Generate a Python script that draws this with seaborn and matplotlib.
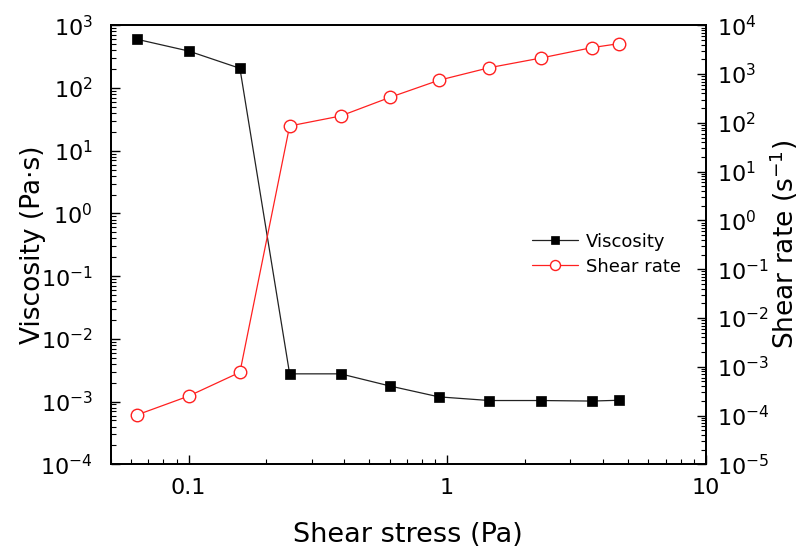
import numpy as np
import pandas as pd
import matplotlib
matplotlib.use("Agg")
import matplotlib.pyplot as plt
import seaborn as sns
from matplotlib.ticker import LogLocator, FixedLocator, FixedFormatter, NullFormatter

# ---- data ----
shear_stress = [0.0632, 0.1, 0.158, 0.246, 0.387, 0.602, 0.929, 1.457, 2.31, 3.62, 4.61]
viscosity = [598, 389, 206, 0.00277, 0.00277, 0.00177, 0.00119, 0.00104, 0.00104, 0.00102, 0.00105]
shear_rate = [1.03e-4, 2.5e-4, 7.7e-4, 86.3, 138, 334, 746, 1352, 2136, 3474, 4196]

x_ticks = [0.1, 1, 10]
x_ticklabels = ["0.1", "1", "10"]
left_exps = list(range(-4, 4))
right_exps = list(range(-5, 5))

sns.set_style("ticks")
plt.rcParams['font.family'] = ['DejaVu Sans']
plt.rcParams['mathtext.fontset'] = 'dejavusans'
plt.rcParams['text.color'] = 'black'
plt.rcParams['axes.labelcolor'] = 'black'
plt.rcParams['xtick.color'] = 'black'
plt.rcParams['ytick.color'] = 'black'

fig = plt.figure(figsize=(8.04, 5.57), dpi=100)
ax = fig.add_axes([0.1377, 0.1664, 0.8777 - 0.1377, 0.9546 - 0.1664])
ax2 = ax.twinx()

df = pd.DataFrame({"stress": shear_stress, "visc": viscosity, "rate": shear_rate})

sns.lineplot(data=df, x="stress", y="visc", ax=ax, color="#222222", linewidth=0.9,
             marker="s", markersize=7.5, markerfacecolor="black", markeredgecolor="black",
             markeredgewidth=0.5, label="Viscosity", legend=False)
sns.lineplot(data=df, x="stress", y="rate", ax=ax2, color="#ff2020", linewidth=0.9,
             marker="o", markersize=9, markerfacecolor="white", markeredgecolor="#ff2020",
             markeredgewidth=1.0, label="Shear rate", legend=False)

for a in (ax, ax2):
    a.set_xscale("log")
    a.set_yscale("log")
ax.set_xlim(0.05, 10)
ax.set_ylim(1e-4, 1e3)
ax2.set_ylim(1e-5, 1e4)

ax.xaxis.set_major_locator(FixedLocator(x_ticks))
ax.xaxis.set_major_formatter(FixedFormatter(x_ticklabels))
ax.xaxis.set_minor_locator(LogLocator(base=10, subs=np.arange(2, 10)))
ax.xaxis.set_minor_formatter(NullFormatter())

ax.yaxis.set_major_locator(FixedLocator([10.0**e for e in left_exps]))
ax.yaxis.set_major_formatter(FixedFormatter([r"$10^{%d}$" % e for e in left_exps]))
ax.yaxis.set_minor_locator(LogLocator(base=10, subs=np.arange(2, 10), numticks=20))
ax.yaxis.set_minor_formatter(NullFormatter())

ax2.yaxis.set_major_locator(FixedLocator([10.0**e for e in right_exps]))
ax2.yaxis.set_major_formatter(FixedFormatter([r"$10^{%d}$" % e for e in right_exps]))
ax2.yaxis.set_minor_locator(LogLocator(base=10, subs=np.arange(2, 10), numticks=20))
ax2.yaxis.set_minor_formatter(NullFormatter())

for a in (ax, ax2):
    for s in a.spines.values():
        s.set_linewidth(1.3)
        s.set_color("black")
    a.tick_params(which="major", direction="in", length=6.5, width=1.0, labelsize=16, colors="black")
    a.tick_params(which="minor", direction="in", length=3.6, width=0.8)
ax.tick_params(axis="x", which="both", top=False, bottom=True)
ax.tick_params(axis="x", which="major", pad=10)
ax.tick_params(axis="y", which="both", left=True, right=False)
ax.tick_params(axis="y", which="major", pad=13)
ax2.tick_params(axis="y", which="both", left=False, right=True)
ax2.tick_params(axis="y", which="major", pad=8)

ax.set_xlabel("Shear stress (Pa)", fontsize=19.5, labelpad=17)
ax.set_ylabel("Viscosity (Pa·s)", fontsize=19, labelpad=-4)
ax2.set_ylabel(r"Shear rate (s$^{-1}$)", fontsize=19, labelpad=-1)

h1, l1 = ax.get_legend_handles_labels()
h2, l2 = ax2.get_legend_handles_labels()
ax2.legend(h1 + h2, l1 + l2, loc="upper left", bbox_to_anchor=(0.68, 0.565),
           frameon=False, fontsize=13, handlelength=2.6, handletextpad=0.4,
           labelspacing=0.4, markerscale=0.8)

fig.savefig("out.png", dpi=100)
